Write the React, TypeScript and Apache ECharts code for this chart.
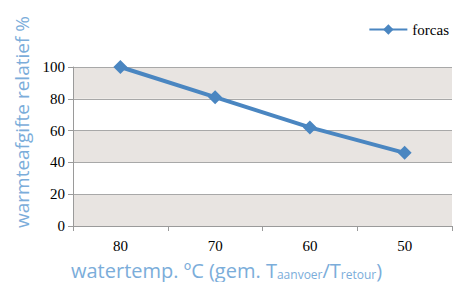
import React, { useEffect, useRef } from "react";
import * as echarts from "echarts";

const categories = ["80", "70", "60", "50"];
const forcasValues = [100, 81, 62, 46];
const seriesName = "forcas";
const yAxisTitle = "warmteafgifte relatief %";
const xAxisTitle = "watertemp. ºC (gem. T{sub|aanvoer}/T{sub|retour})";

export default function App() {
  const ref = useRef<HTMLDivElement>(null);
  useEffect(() => {
    if (!ref.current) return;
    const chart = echarts.init(ref.current, undefined, { renderer: "svg" });
    const titleColor = "#7badda";
    chart.setOption({
      animation: false,
      backgroundColor: "#ffffff",
      grid: { left: 73, right: 14, top: 67, bottom: 56, containLabel: false },
      legend: {
        data: [seriesName],
        right: 12,
        top: 17,
        itemWidth: 38,
        itemHeight: 13,
        itemGap: 4,
        textStyle: { fontFamily: "Liberation Serif", fontSize: 15, color: "#000" },
      },
      graphic: [
        {
          type: "text",
          x: 22,
          y: 122,
          rotation: Math.PI / 2,
          style: {
            text: yAxisTitle,
            fontFamily: "Open Sans",
            fontSize: 19,
            fill: titleColor,
            align: "center",
            verticalAlign: "middle",
          },
        },
        {
          type: "text",
          x: 71,
          y: 260,
          style: {
            text: xAxisTitle,
            fontFamily: "Open Sans",
            fontSize: 20,
            fill: titleColor,
            align: "left",
            verticalAlign: "top",
            rich: {
              sub: { fontFamily: "Open Sans", fontSize: 12, fill: titleColor, verticalAlign: "bottom", padding: [7, 0, 0, 0] },
            },
          },
        },
      ],
      xAxis: {
        type: "category",
        data: categories,
        boundaryGap: true,
        axisLine: { lineStyle: { color: "#9a9a9a", width: 1 } },
        axisTick: { show: true, length: 5, lineStyle: { color: "#9a9a9a" } },
        axisLabel: { fontFamily: "Liberation Serif", fontSize: 15, color: "#000", margin: 12 },
      },
      yAxis: {
        type: "value",
        min: 0,
        max: 100,
        interval: 20,
        axisLine: { show: true, lineStyle: { color: "#9a9a9a", width: 1 } },
        axisTick: { show: true, length: 5, lineStyle: { color: "#9a9a9a" } },
        axisLabel: { fontFamily: "Liberation Serif", fontSize: 15, color: "#000", margin: 8 },
        splitLine: { show: true, lineStyle: { color: "#a8a8a8", width: 1 } },
        splitArea: { show: true, areaStyle: { color: ["#e8e4e1", "#ffffff"] } },
      },
      series: [
        {
          name: seriesName,
          type: "line",
          data: forcasValues,
          symbol: "diamond",
          symbolSize: 14,
          lineStyle: { color: "#4a86c1", width: 4 },
          itemStyle: { color: "#4a86c1" },
        },
      ],
    });
    return () => chart.dispose();
  }, []);
  return (
    <div
      ref={ref}
      style={{ position: "fixed", left: 0, top: 0, width: 466, height: 282 }}
    />
  );
}
